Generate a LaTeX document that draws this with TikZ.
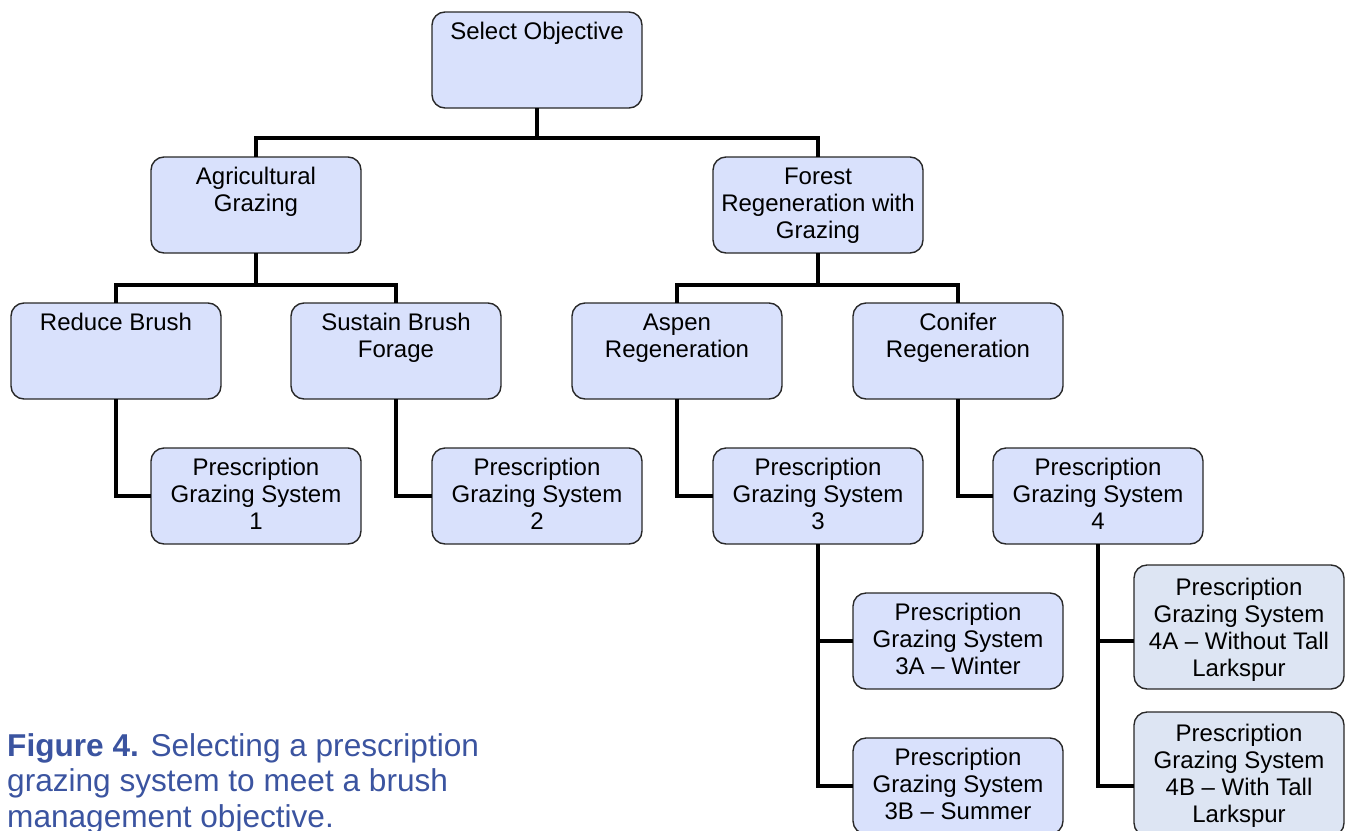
\documentclass[tikz,border=0pt]{standalone}
\usepackage{fontspec}
\setmainfont{Liberation Sans}
\definecolor{boxfill}{RGB}{217,225,252}
\definecolor{boxfillB}{RGB}{221,229,243}
\definecolor{boxline}{RGB}{40,40,40}
\definecolor{capblue}{RGB}{59,84,160}
\newcommand{\btxt}[3]{\parbox[c][#1][t]{210pt}{\centering\vspace*{#2}\strut #3}}
\tikzset{
  box/.style={draw=boxline, line width=1.4pt, fill=boxfill, rounded corners=13pt,
    inner sep=0pt, outer sep=0pt, anchor=north west, font=\fontsize{24}{27}\selectfont},
  boxB/.style={box, fill=boxfillB},
  conn/.style={draw=black, line width=4.5pt, line join=miter},
  caption/.style={inner sep=0pt, anchor=north west, align=left, text=capblue,
    font=\fontsize{31.6}{35.5}\selectfont}
}
\begin{document}
\begin{tikzpicture}[x=1pt,y=-1pt]
\useasboundingbox (0,0) rectangle (1348,830);
\clip (0,0) rectangle (1348,830);
\node[box] (sel) at (432,12) {\btxt{96pt}{9pt}{Select Objective}};
\node[box] (agr) at (151,157) {\btxt{96pt}{9pt}{Agricultural\\Grazing}};
\node[box] (frg) at (713,157) {\btxt{96pt}{9pt}{Forest\\Regeneration with\\Grazing}};
\node[box] (rb) at (11,303) {\btxt{96pt}{9pt}{Reduce Brush}};
\node[box] (sb) at (291,303) {\btxt{96pt}{9pt}{Sustain Brush\\Forage}};
\node[box] (asp) at (572,303) {\btxt{96pt}{9pt}{Aspen\\Regeneration}};
\node[box] (con) at (853,303) {\btxt{96pt}{9pt}{Conifer\\Regeneration}};
\node[box] (p1) at (151,448) {\btxt{96pt}{9pt}{Prescription\\Grazing System\\1}};
\node[box] (p2) at (432,448) {\btxt{96pt}{9pt}{Prescription\\Grazing System\\2}};
\node[box] (p3) at (713,448) {\btxt{96pt}{9pt}{Prescription\\Grazing System\\3}};
\node[box] (p4) at (993,448) {\btxt{96pt}{9pt}{Prescription\\Grazing System\\4}};
\node[box] (p3a) at (853,593) {\btxt{96pt}{9pt}{Prescription\\Grazing System\\3A -- Winter}};
\node[box] (p3b) at (853,738) {\btxt{96pt}{9pt}{Prescription\\Grazing System\\3B -- Summer}};
\node[boxB] (p4a) at (1134,565) {\btxt{124pt}{12pt}{Prescription\\Grazing System\\4A -- Without Tall\\Larkspur}};
\node[boxB] (p4b) at (1134,712) {\btxt{124pt}{11pt}{Prescription\\Grazing System\\4B -- With Tall\\Larkspur}};
\draw[conn] (sel.south) -- ++(0,30) coordinate (j0);
\draw[conn] (agr.north) |- (j0) -| (frg.north);
\draw[conn] (agr.south) -- ++(0,32) coordinate (j1);
\draw[conn] (rb.north) |- (j1) -| (sb.north);
\draw[conn] (frg.south) -- ++(0,32) coordinate (j2);
\draw[conn] (asp.north) |- (j2) -| (con.north);
\draw[conn] (rb.south) |- (p1.west);
\draw[conn] (sb.south) |- (p2.west);
\draw[conn] (asp.south) |- (p3.west);
\draw[conn] (con.south) |- (p4.west);
\draw[conn] (p3.south) |- (p3b.west);
\draw[conn] (p3.south |- p3a.west) -- (p3a.west);
\draw[conn] (p4.south) |- (p4b.west |- p3b.west);
\draw[conn] (p4.south |- p3a.west) -- (p4a.west |- p3a.west);
\node[caption] (cap) at (7,733) {\textbf{Figure 4.} Selecting a prescription\\grazing system to meet a brush\\management objective.};
\end{tikzpicture}
\end{document}
